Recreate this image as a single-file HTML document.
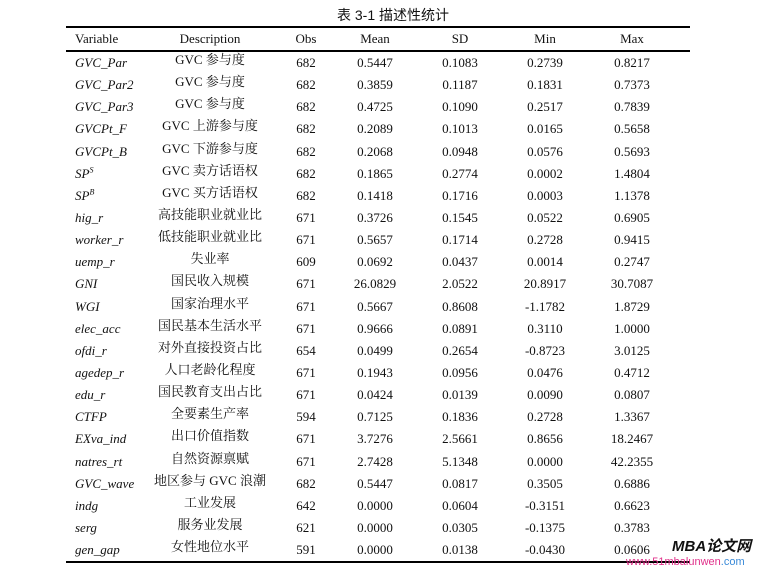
<!DOCTYPE html>
<html><head><meta charset="utf-8"><style>
body{margin:0;width:758px;height:570px;background:#fff;position:relative;overflow:hidden;font-family:"Liberation Serif","Noto Serif CJK SC",serif;color:#111;font-size:13px}
.r{position:absolute;left:0;width:758px;height:22px;line-height:22px}
.c{position:absolute;top:0;white-space:nowrap}
.v{left:75px;font-style:italic}
.d{left:150px;width:120px;text-align:center;font-family:"Liberation Serif","Noto Serif CJK SC",serif}
.o{left:286px;width:40px;text-align:center}
.m{left:340px;width:70px;text-align:center}
.s{left:425px;width:70px;text-align:center}
.n{left:510px;width:70px;text-align:center}
.x{left:597px;width:70px;text-align:center}
.h{position:absolute;left:66px;width:624px;background:#000}
sup{font-size:8px;line-height:0}
</style></head><body>
<div style="position:absolute;left:0;width:758px;top:5px;text-align:center;font-family:'Liberation Sans','Noto Sans CJK SC',sans-serif;font-size:14px;padding-left:28px;box-sizing:border-box">表 3-1 描述性统计</div>
<div class="h" style="top:26px;height:2px"></div>
<div class="h" style="top:50px;height:2px"></div>
<div class="h" style="top:561px;height:2px"></div>
<div class="r" style="top:28px"><span class="c" style="left:75px">Variable</span><span class="c d">Description</span><span class="c o">Obs</span><span class="c m">Mean</span><span class="c s">SD</span><span class="c n">Min</span><span class="c x">Max</span></div>
<div id="rows"></div>
<script>
var R=[["GVC_Par","GVC 参与度","682","0.5447","0.1083","0.2739","0.8217"],
["GVC_Par2","GVC 参与度","682","0.3859","0.1187","0.1831","0.7373"],
["GVC_Par3","GVC 参与度","682","0.4725","0.1090","0.2517","0.7839"],
["GVCPt_F","GVC 上游参与度","682","0.2089","0.1013","0.0165","0.5658"],
["GVCPt_B","GVC 下游参与度","682","0.2068","0.0948","0.0576","0.5693"],
["SP<sup>S</sup>","GVC 卖方话语权","682","0.1865","0.2774","0.0002","1.4804"],
["SP<sup>B</sup>","GVC 买方话语权","682","0.1418","0.1716","0.0003","1.1378"],
["hig_r","高技能职业就业比","671","0.3726","0.1545","0.0522","0.6905"],
["worker_r","低技能职业就业比","671","0.5657","0.1714","0.2728","0.9415"],
["uemp_r","失业率","609","0.0692","0.0437","0.0014","0.2747"],
["GNI","国民收入规模","671","26.0829","2.0522","20.8917","30.7087"],
["WGI","国家治理水平","671","0.5667","0.8608","-1.1782","1.8729"],
["elec_acc","国民基本生活水平","671","0.9666","0.0891","0.3110","1.0000"],
["ofdi_r","对外直接投资占比","654","0.0499","0.2654","-0.8723","3.0125"],
["agedep_r","人口老龄化程度","671","0.1943","0.0956","0.0476","0.4712"],
["edu_r","国民教育支出占比","671","0.0424","0.0139","0.0090","0.0807"],
["CTFP","全要素生产率","594","0.7125","0.1836","0.2728","1.3367"],
["EXva_ind","出口价值指数","671","3.7276","2.5661","0.8656","18.2467"],
["natres_rt","自然资源禀赋","671","2.7428","5.1348","0.0000","42.2355"],
["GVC_wave","地区参与 GVC 浪潮","682","0.5447","0.0817","0.3505","0.6886"],
["indg","工业发展","642","0.0000","0.0604","-0.3151","0.6623"],
["serg","服务业发展","621","0.0000","0.0305","-0.1375","0.3783"],
["gen_gap","女性地位水平","591","0.0000","0.0138","-0.0430","0.0606"]];
var h="",cl=["v","d","o","m","s","n","x"];
R.forEach(function(r,i){var t=52+i*22.14;h+='<div class="r" style="top:'+t.toFixed(1)+'px">';r.forEach(function(x,j){h+='<span class="c '+cl[j]+'"'+(j==1?' style="top:-3px"':'')+'>'+x+'</span>';});h+='</div>';});
document.getElementById("rows").innerHTML=h;
</script>
<div style="position:absolute;left:672px;top:538px;white-space:nowrap;font-family:'Liberation Sans','Noto Sans CJK SC',sans-serif;font-weight:bold;font-style:italic;font-size:15px;line-height:18px;color:#111">MBA论文网</div>
<div style="position:absolute;left:626px;top:556px;white-space:nowrap;font-family:'Liberation Sans',sans-serif;font-size:11px;line-height:13px;color:#e0308a">www.51mbalunwen<span style="color:#3a8ad8">.com</span></div>
</body></html>
